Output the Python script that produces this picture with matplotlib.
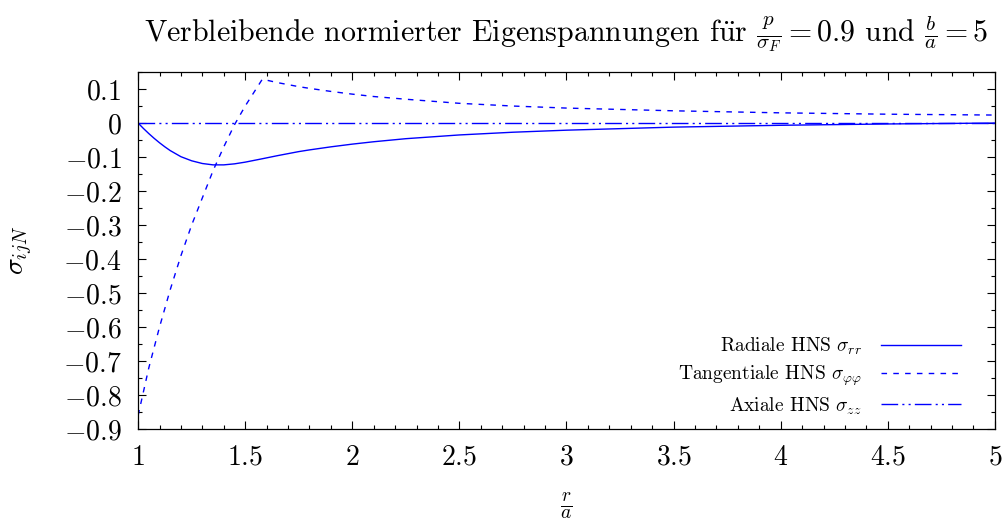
import numpy as np
import matplotlib
matplotlib.use("Agg")
import matplotlib.pyplot as plt

# radius r/a and residual stresses (normalised)
r = [1.0, 1.025, 1.05, 1.075, 1.1, 1.125, 1.15, 1.2, 1.25, 1.3, 1.35, 1.4, 1.45, 1.5, 1.58,
     1.65, 1.7, 1.75, 1.8, 1.9, 2.0, 2.1, 2.25, 2.5, 2.75, 3.0, 3.5, 4.0, 4.5, 5.0]
sigma_rr = [0.0, -0.016, -0.031, -0.045, -0.058, -0.070, -0.081, -0.099, -0.111,
            -0.119, -0.123, -0.123, -0.120, -0.115, -0.105,
            -0.096, -0.090, -0.084, -0.079, -0.070, -0.062,
            -0.055, -0.046, -0.035, -0.027, -0.021, -0.012, -0.0066, -0.0027, 0.0]
sigma_pp = [-0.86, -0.79, -0.72, -0.66, -0.60, -0.545, -0.49, -0.39, -0.30, -0.22,
            -0.14, -0.07, -0.005, 0.05, 0.129,
            0.119, 0.113, 0.107, 0.102, 0.093, 0.085,
            0.078, 0.070, 0.058, 0.050, 0.044, 0.036, 0.030, 0.026, 0.0235]
sigma_zz = [0.0] * len(r)

labels = [r"Radiale HNS $\sigma_{rr}$",
          r"Tangentiale HNS $\sigma_{\varphi\varphi}$",
          r"Axiale HNS $\sigma_{zz}$"]

xticks = [1, 1.5, 2, 2.5, 3, 3.5, 4, 4.5, 5]
yticks = [0.1, 0, -0.1, -0.2, -0.3, -0.4, -0.5, -0.6, -0.7, -0.8, -0.9]

plt.rcParams['font.family'] = ['cmr10', 'DejaVu Serif']
plt.rcParams['mathtext.fontset'] = 'cm'
plt.rcParams['axes.unicode_minus'] = False

fig = plt.figure(figsize=(10.08, 5.22), dpi=100)
ax = fig.add_axes([0.137, 0.178, 0.85, 0.684])

blue = '#0000ff'
ax.plot(r, sigma_rr, color=blue, lw=1.0, label=labels[0])
ax.plot(r, sigma_pp, color=blue, lw=1.0, dashes=(4, 4.5), label=labels[1])
ax.plot(r, sigma_zz, color=blue, lw=1.0, dashes=(12, 3, 1.5, 3, 1.5, 3), label=labels[2])

ax.set_xlim(1, 5)
ax.set_ylim(-0.9, 0.15)

def fmt(v):
    s = f"{v:g}"
    return "$" + s + "$"

ax.set_xticks(xticks)
ax.set_xticklabels([fmt(v) for v in xticks])
ax.set_yticks(yticks)
ax.set_yticklabels([fmt(v) for v in yticks])
ax.set_xticks(np.arange(1, 5.001, 0.1), minor=True)
ax.set_yticks(np.arange(-0.9, 0.151, 0.05), minor=True)

ax.tick_params(which='both', direction='in', top=True, right=True, labelsize=20)
ax.tick_params(which='major', length=6, width=0.8)
ax.tick_params(which='minor', length=3, width=0.8)
ax.tick_params(axis='y', which='major', pad=12)
ax.tick_params(axis='x', which='major', pad=11)
for sp in ax.spines.values():
    sp.set_linewidth(0.9)

ax.set_xlabel(r"$\frac{r}{a}$", fontsize=20, labelpad=14)
ax.set_ylabel(r"$\sigma_{ijN}$", fontsize=20, labelpad=20)
ax.set_title(r"Verbleibende normierter Eigenspannungen f$\ddot{\mathrm{u}}$r $\frac{p}{\sigma_F} = 0.9$ und $\frac{b}{a} = 5$",
             fontsize=21.5, pad=22)

ax.legend(loc='lower right', bbox_to_anchor=(0.981, -0.014), frameon=False,
          markerfirst=False, fontsize=14, handlelength=4.1,
          handletextpad=1.0, labelspacing=0.35)

fig.savefig("out.png", dpi=100)
